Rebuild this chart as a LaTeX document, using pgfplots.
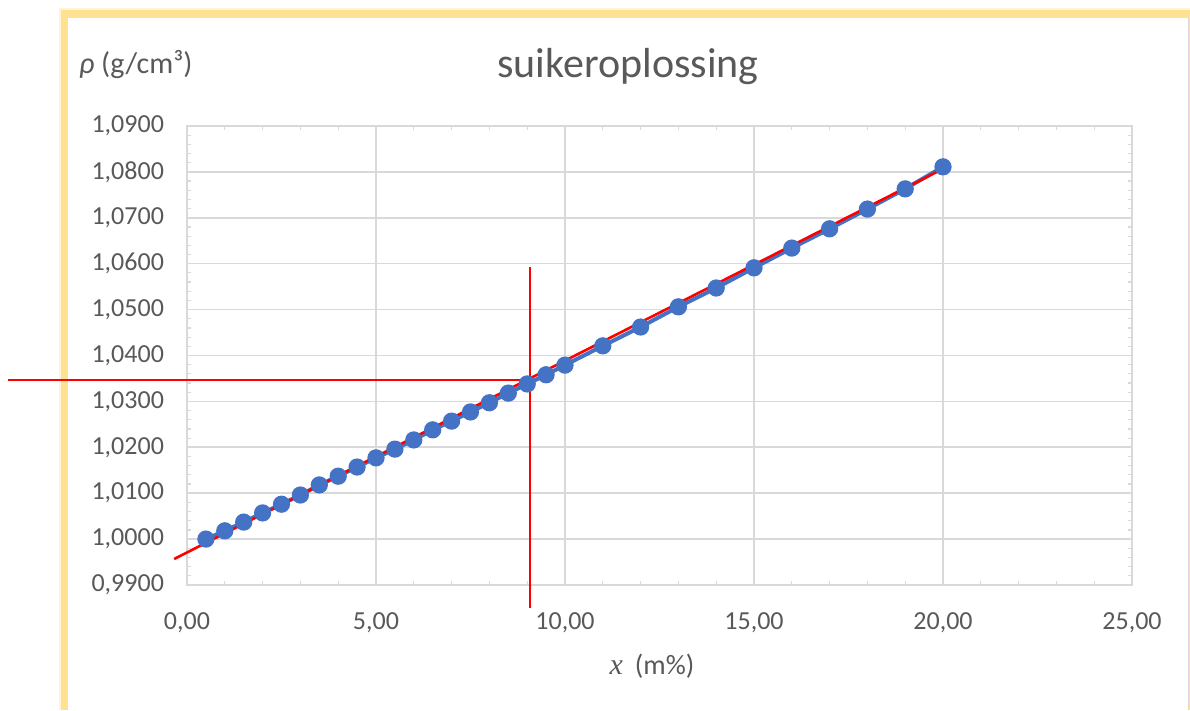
\documentclass[border=0pt]{standalone}
\usepackage{fontspec}
\setmainfont{Carlito}
\newfontfamily\serifit{Liberation Serif}
\usepackage{pgfplots}
\pgfplotsset{compat=1.18}
\definecolor{gridc}{RGB}{217,217,217}
\definecolor{txt}{RGB}{89,89,89}
\definecolor{blu}{RGB}{68,114,196}
\definecolor{framey}{RGB}{255,226,145}
\begin{document}
\begin{tikzpicture}
\fill[white] (0pt,0pt) rectangle (595pt,355pt);
\fill[framey!40] (29.5pt,0pt) rectangle (595pt,351pt);
\fill[framey] (30.5pt,0pt) rectangle (595pt,350pt);
\fill[white] (34pt,0pt) rectangle (594pt,346pt);
\draw[gray!30, line width=0.6pt] (594.3pt,0pt) -- (594.3pt,346pt);
\begin{axis}[
  at={(93.5pt,62.5pt)}, anchor=south west,
  scale only axis, width=472.5pt, height=229.5pt,
  xmin=0, xmax=25, ymin=0.99, ymax=1.09,
  xtick={0,5,...,25}, ytick={0.99,1.00,...,1.09},
  minor x tick num=4, minor y tick num=4,
  major tick length=0pt, minor tick length=1.8pt,
  tick align=inside,
  tick style={gridc, line width=0.6pt},
  grid=major, major grid style={gridc, line width=0.8pt},
  axis line style={gridc, line width=0.8pt},
  clip=false,
  /pgf/number format/assume math mode=true,
  xticklabel style={font=\fontsize{13pt}{15pt}\selectfont, text=txt, yshift=-10.5pt,
     /pgf/number format/.cd, fixed, fixed zerofill, precision=2, use comma, 1000 sep={}},
  yticklabel style={font=\fontsize{13pt}{15pt}\selectfont, text=txt, xshift=-8pt,
     /pgf/number format/.cd, fixed, fixed zerofill, precision=4, use comma, 1000 sep={}},
]
\addplot[blu, line width=2pt, mark=*, mark size=3.3pt, mark options={fill=blu, draw=blu}] coordinates {
(0.5,1.0000)(1,1.0018)(1.5,1.0037)(2,1.0057)(2.5,1.0076)(3,1.0096)(3.5,1.0118)(4,1.0137)(4.5,1.0157)(5,1.0177)
(5.5,1.0196)(6,1.0216)(6.5,1.0238)(7,1.0257)(7.5,1.0277)(8,1.0297)(8.5,1.0318)(9,1.0338)(9.5,1.0358)(10,1.0379)
(11,1.0421)(12,1.0462)(13,1.0506)(14,1.0547)(15,1.0591)(16,1.0634)(17,1.0676)(18,1.0719)(19,1.0763)(20,1.0811)};
\addplot[red, line width=1.3pt] coordinates {(-0.34,0.99566)(19.84,1.0800)};
\addplot[red, line width=0.7pt] coordinates {(-4.74,1.0347)(9.07,1.0347)};
\addplot[red, line width=0.7pt] coordinates {(9.07,1.0593)(9.07,0.985)};
\end{axis}
\node[text=txt, font=\fontsize{21pt}{24pt}\selectfont] at (314pt,321.5pt) {suikeroplossing};
\node[text=txt, font=\fontsize{15pt}{18pt}\selectfont, anchor=west] at (36pt,322.5pt) {\textit{ρ} (g/cm³)};
\node[text=txt, font=\fontsize{14pt}{17pt}\selectfont] at (326pt,22pt) {{\serifit\itshape\fontsize{15pt}{17pt}\selectfont x}\hspace{6pt}(m\%)};
\end{tikzpicture}
\end{document}
